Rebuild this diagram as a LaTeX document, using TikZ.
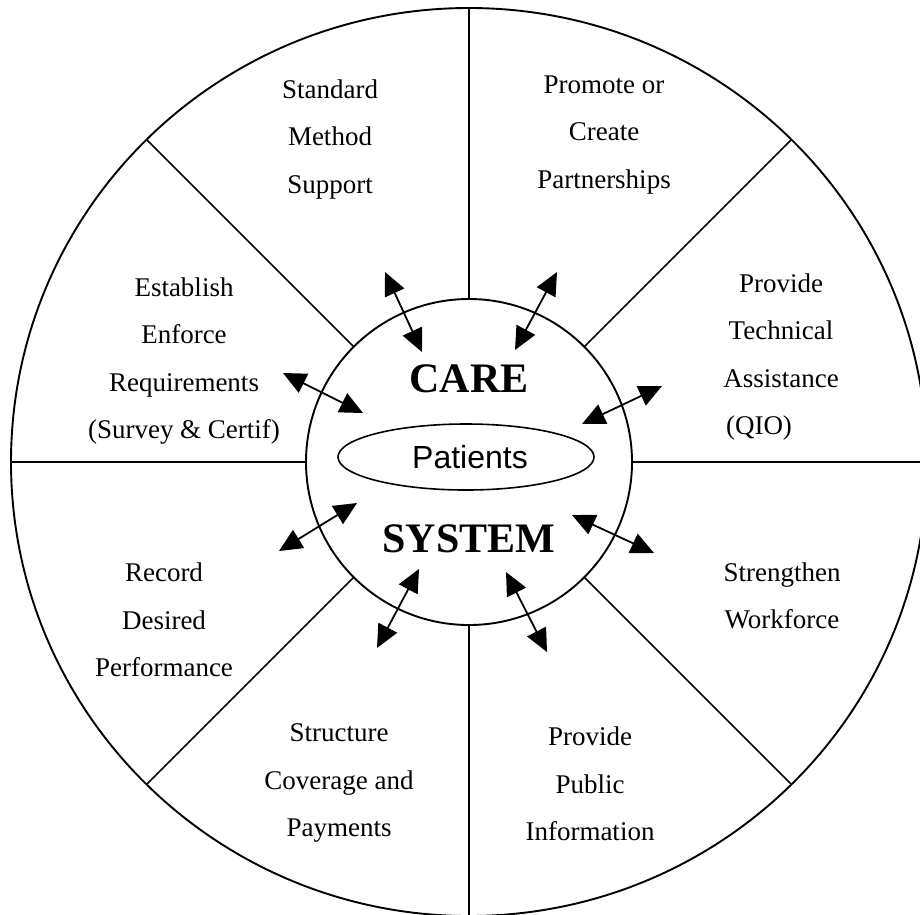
\documentclass[tikz,border=0pt]{standalone}
\usepackage{fontspec}
\setmainfont{Liberation Serif}
\newfontfamily\patfont{Liberation Sans}
\usetikzlibrary{arrows.meta,calc,shapes.geometric}

\tikzset{
  rim/.style={line width=1.9pt},
  spoke/.style={line width=1.7pt},
  link/.style={line width=1.8pt, {Triangle[length=23pt,width=21pt]}-{Triangle[length=23pt,width=21pt]}},
  wedgetext/.style={align=center, font=\fontsize{27}{47.5}\selectfont},
  hubword/.style={font=\fontsize{42}{48}\bfseries\selectfont},
}

\begin{document}
\begin{tikzpicture}[x=1pt,y=-1pt]
  \useasboundingbox (0,0) rectangle (920,914);
  \clip (0,0) rectangle (920,914);

  \coordinate (C) at (469,462);

  % outer wheel and hub
  \draw[rim] (C) ellipse [x radius=458, y radius=454];
  \draw[rim] (C) circle [radius=163];

  % spokes between hub and rim
  \foreach \a/\r in {0/458,45/456,90/454,135/456,180/458,225/456,270/454,315/456}
    \draw[spoke] ($(C)+(\a:163)$) -- ($(C)+(\a:\r)$);

  % centre
  \node[draw, line width=1.6pt, ellipse, minimum width=256pt, minimum height=66pt, inner sep=0pt] (pat) at (466,457) {};
  \node[font=\patfont\fontsize{32}{36}\selectfont] (patl) at (470,457) {Patients};
  \node[hubword] (care) at (469,379) {CARE};
  \node[hubword] (sys) at (469,539) {SYSTEM};

  % wedge labels
  \node[wedgetext] (std) at (330,139) {Standard\\Method\\Support};
  \node[wedgetext] (pro) at (604,135) {Promote or\\Create\\Partnerships};
  \node[wedgetext] (tec) at (781,357) {Provide\\Technical\\Assistance\\(QIO)\hspace*{44pt}};
  \node[wedgetext] (est) at (184,361) {Establish\\Enforce\\Requirements\\(Survey \& Certif)};
  \node[wedgetext] (rec) at (164,620) {Record\\Desired\\Performance};
  \node[wedgetext] (wrk) at (782,596) {Strengthen\\Workforce};
  \node[wedgetext] (cov) at (339,783) {Structure\\Coverage and\\Payments};
  \node[wedgetext] (pub) at (590,784) {Provide\\Public\\Information};

  % two-way links between the hub and each wedge
  \coordinate (a1o) at (385,272); \coordinate (a1i) at (422,352);
  \coordinate (a2o) at (557,272); \coordinate (a2i) at (515,350);
  \coordinate (a3o) at (662,386); \coordinate (a3i) at (582,424);
  \coordinate (a4o) at (654,553); \coordinate (a4i) at (572,515);
  \coordinate (a5o) at (547,652); \coordinate (a5i) at (506,572);
  \coordinate (a6o) at (377,648); \coordinate (a6i) at (419,569);
  \coordinate (a7o) at (279,551); \coordinate (a7i) at (357,503);
  \coordinate (a8o) at (283,373); \coordinate (a8i) at (363,413);
  \foreach \k in {1,...,8}
    \draw[link] (a\k o) -- (a\k i);
\end{tikzpicture}
\end{document}
